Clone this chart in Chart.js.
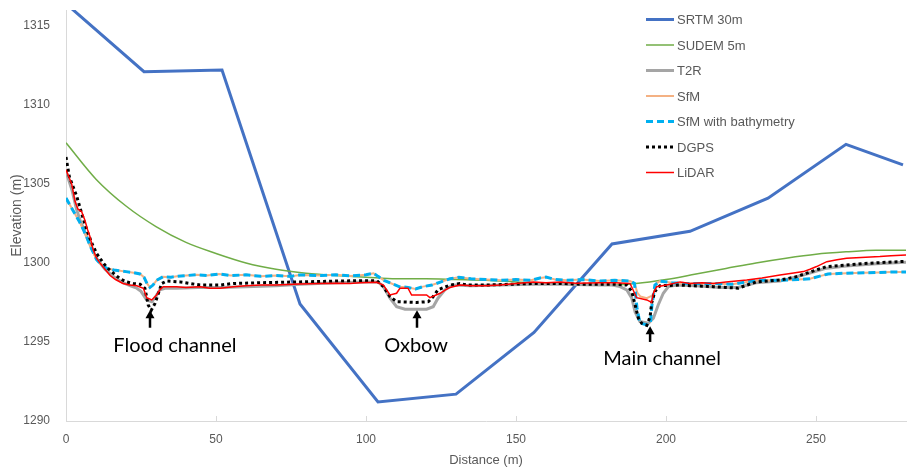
<!DOCTYPE html>
<html>
<head>
<meta charset="utf-8">
<script src="https://cdn.jsdelivr.net/npm/chart.js"></script>
<style>
  html, body { margin: 0; padding: 0; background: #fff; }
  #wrap { width: 908px; height: 468px; position: relative; }
</style>
</head>
<body>
<div id="wrap"><canvas id="profileChart"></canvas></div>
<script>
// Series values (distance in m, elevation in m)
const srtmX = [0, 26, 52, 78, 104, 130, 156, 182, 208, 234, 260, 279];
const srtmY = [1316.4, 1312.1, 1312.2, 1297.4, 1291.2, 1291.7, 1295.6, 1301.2, 1302.0, 1304.1, 1307.5, 1306.2];

const sudemX = [0, 10, 20, 30, 40, 50, 60, 70, 80, 90, 100, 110, 120, 130, 140, 150, 160, 170, 180, 190, 200, 210, 220, 230, 240, 250, 260, 270, 280];
const sudemY = [1307.6, 1305.3, 1303.6, 1302.3, 1301.3, 1300.6, 1300.0, 1299.6, 1299.35, 1299.2, 1299.1, 1299.0, 1299.0, 1298.95, 1298.9, 1298.8, 1298.7, 1298.65, 1298.6, 1298.7, 1298.95, 1299.3, 1299.65, 1300.0, 1300.3, 1300.55, 1300.7, 1300.8, 1300.8];

const t2rX = [0, 2, 3.5, 4.7, 6.9, 8.6, 10.5, 13, 16, 19, 21.5, 23.6, 25, 26.9, 28.6, 30, 31.3, 33, 36.9, 44, 51.3, 60, 70, 78, 90, 100, 104, 105.8, 108, 110.2, 113, 120.2, 122.4, 124, 126.3, 129, 135, 145, 155, 165, 178, 182, 184.7, 186.9, 188.6, 189.7, 191.3, 194.1, 195.8, 197.4, 199.1, 200.8, 203.6, 210, 218, 224, 230, 238, 246, 253, 260, 270, 280];
const t2rY = [1305.8, 1304.6, 1303.4, 1302.7, 1301.66, 1300.9, 1300.2, 1299.6, 1299.1, 1298.75, 1298.55, 1298.4, 1298.2, 1297.66, 1297.55, 1297.9, 1298.3, 1298.4, 1298.4, 1298.45, 1298.45, 1298.5, 1298.55, 1298.65, 1298.75, 1298.8, 1298.8, 1298.5, 1297.77, 1297.23, 1297.07, 1297.07, 1297.23, 1297.77, 1298.3, 1298.6, 1298.55, 1298.6, 1298.65, 1298.65, 1298.6, 1298.6, 1298.5, 1298.3, 1297.77, 1296.9, 1296.3, 1296.18, 1296.5, 1297.34, 1298.08, 1298.5, 1298.6, 1298.55, 1298.45, 1298.45, 1298.75, 1298.85, 1299.25, 1299.65, 1299.8, 1299.95, 1300.05];

const sfmX = [0, 1.5, 3, 4.5, 5.8, 7, 8, 9, 10.2, 12, 13.6, 16, 18, 20, 22, 24.7, 26, 27, 28, 29, 30.2, 32.4, 35, 37, 40, 43.6, 47, 51, 55, 60, 65, 70, 75, 78, 85, 90, 95, 100, 102.5, 104, 106, 108.5, 111, 114, 116.5, 119, 122, 125, 128, 131, 135, 140, 145, 150, 155, 158, 160, 163, 167, 172, 178, 183, 188, 189.5, 190.5, 191.5, 193.6, 195, 195.8, 196.8, 198, 202, 206, 210, 216, 222, 227, 231, 238, 244, 248, 251, 254, 260, 266, 271, 275, 280];
const sfmY = [1304.1, 1303.6, 1303.1, 1302.6, 1302.1, 1301.6, 1301.1, 1300.7, 1300.2, 1299.85, 1299.66, 1299.55, 1299.5, 1299.45, 1299.4, 1299.3, 1299.1, 1298.7, 1298.45, 1298.6, 1298.9, 1299.13, 1299.1, 1299.15, 1299.2, 1299.25, 1299.2, 1299.3, 1299.2, 1299.25, 1299.15, 1299.2, 1299.15, 1299.24, 1299.2, 1299.25, 1299.18, 1299.25, 1299.35, 1299.15, 1298.9, 1298.7, 1298.5, 1298.45, 1298.35, 1298.5, 1298.6, 1298.8, 1299.0, 1299.1, 1299.0, 1298.95, 1298.9, 1298.95, 1298.9, 1299.05, 1299.1, 1298.95, 1298.9, 1298.95, 1298.85, 1298.9, 1298.86, 1298.7, 1298.1, 1297.87, 1297.77, 1297.9, 1298.0, 1298.7, 1298.85, 1298.75, 1298.7, 1298.7, 1298.7, 1298.65, 1298.8, 1298.9, 1298.9, 1298.95, 1299.0, 1299.15, 1299.3, 1299.35, 1299.38, 1299.4, 1299.42, 1299.42];

const bathyX = [0, 1.5, 3, 4.5, 5.8, 7, 8, 9, 10.2, 12, 13.6, 16, 18, 20, 22, 24.7, 26, 27, 28, 29, 30.2, 32.4, 35, 37, 40, 43.6, 47, 51, 55, 60, 65, 70, 75, 78, 85, 90, 95, 100, 102.5, 104, 106, 108.5, 111, 114, 116.5, 119, 122, 125, 128, 131, 135, 140, 145, 150, 155, 158, 160, 163, 167, 172, 178, 183, 188, 189.5, 190.3, 191.3, 193.6, 194.8, 195.3, 196.3, 198, 202, 206, 210, 216, 222, 227, 231, 238, 244, 248, 251, 254, 260, 266, 271, 275, 280];
const bathyY = [1304.1, 1303.6, 1303.1, 1302.6, 1302.1, 1301.6, 1301.1, 1300.7, 1300.2, 1299.85, 1299.66, 1299.55, 1299.5, 1299.45, 1299.4, 1299.3, 1299.1, 1298.7, 1298.45, 1298.6, 1298.9, 1299.13, 1299.1, 1299.15, 1299.2, 1299.25, 1299.2, 1299.3, 1299.2, 1299.25, 1299.15, 1299.2, 1299.15, 1299.24, 1299.2, 1299.25, 1299.18, 1299.25, 1299.35, 1299.15, 1298.9, 1298.7, 1298.5, 1298.45, 1298.35, 1298.5, 1298.6, 1298.8, 1299.0, 1299.1, 1299.0, 1298.95, 1298.9, 1298.95, 1298.9, 1299.05, 1299.1, 1298.95, 1298.9, 1298.95, 1298.85, 1298.9, 1298.86, 1298.7, 1297.2, 1296.2, 1296.08, 1296.2, 1297.3, 1298.6, 1298.85, 1298.75, 1298.7, 1298.7, 1298.7, 1298.65, 1298.8, 1298.9, 1298.9, 1298.95, 1299.0, 1299.15, 1299.3, 1299.35, 1299.38, 1299.4, 1299.42, 1299.42];

const dgpsX = [0, 1.1, 2.4, 3.6, 5.2, 6.9, 8.6, 10.2, 12.4, 14, 15.8, 18, 20.2, 22.5, 24.7, 26.3, 27.4, 28.4, 29.7, 30.8, 31.9, 33.6, 38, 44.7, 51.3, 55.8, 65, 78, 90, 98, 103.6, 105.8, 108, 110.2, 116.9, 120.8, 122.4, 124, 128, 131.3, 133.6, 140, 148, 155.8, 165, 172, 178, 183, 186.9, 188.6, 189.7, 190.8, 191.9, 193.6, 194.7, 195.2, 196.3, 198, 204.7, 208, 215.8, 220, 224, 227, 230.2, 238, 243, 246.9, 250, 253.6, 260.2, 265, 271.3, 280];
const dgpsY = [1306.7, 1305.46, 1304.8, 1304.2, 1303.14, 1302.1, 1301.25, 1300.6, 1300.0, 1299.65, 1299.35, 1299.0, 1298.8, 1298.7, 1298.65, 1298.4, 1297.34, 1297.0, 1297.45, 1298.08, 1298.7, 1298.86, 1298.8, 1298.6, 1298.6, 1298.7, 1298.75, 1298.8, 1298.85, 1298.88, 1298.88, 1298.5, 1297.87, 1297.55, 1297.5, 1297.55, 1297.87, 1298.3, 1298.6, 1298.7, 1298.6, 1298.6, 1298.65, 1298.7, 1298.7, 1298.65, 1298.65, 1298.65, 1298.6, 1298.2, 1297.34, 1296.5, 1296.18, 1296.05, 1296.6, 1297.45, 1298.2, 1298.56, 1298.6, 1298.56, 1298.5, 1298.45, 1298.4, 1298.6, 1298.8, 1298.92, 1299.1, 1299.35, 1299.55, 1299.77, 1299.87, 1299.95, 1300.02, 1300.1];

const lidarX = [0, 1.9, 3, 4, 5.2, 6.3, 7.2, 8, 9.1, 10.2, 11.3, 13, 14.7, 16.5, 19, 21.3, 23.6, 25.8, 26.9, 28.6, 30.2, 31.3, 32.4, 36.9, 40, 44.7, 48, 51.3, 55.8, 60, 65, 70, 78, 85, 90, 94.7, 98, 103.6, 105.8, 108, 110.2, 111.3, 114, 115.2, 120.2, 121.3, 124.7, 126.5, 128, 131.3, 135, 140, 144.7, 150, 155.8, 160, 165, 170, 178, 183, 188, 189, 190.2, 193.6, 195.2, 195.8, 196.9, 200.2, 204.7, 208, 212, 215.8, 220, 226.9, 232, 238, 242, 245.8, 248, 250.2, 253.6, 257, 260.2, 265, 271.3, 275, 280];
const lidarY = [1305.9, 1305.0, 1303.9, 1303.4, 1303.25, 1302.7, 1302.1, 1301.66, 1300.8, 1300.3, 1300.0, 1299.6, 1299.2, 1298.95, 1298.7, 1298.6, 1298.55, 1298.4, 1297.8, 1297.66, 1297.97, 1298.3, 1298.5, 1298.5, 1298.45, 1298.5, 1298.4, 1298.4, 1298.5, 1298.55, 1298.6, 1298.6, 1298.67, 1298.7, 1298.72, 1298.7, 1298.75, 1298.78, 1298.6, 1297.97, 1298.08, 1298.4, 1298.4, 1297.97, 1297.97, 1297.8, 1298.08, 1298.3, 1298.45, 1298.6, 1298.55, 1298.55, 1298.6, 1298.7, 1298.8, 1298.75, 1298.8, 1298.72, 1298.75, 1298.75, 1298.7, 1298.3, 1297.8, 1297.66, 1297.5, 1298.08, 1298.5, 1298.6, 1298.8, 1298.7, 1298.75, 1298.7, 1298.8, 1298.92, 1299.05, 1299.24, 1299.35, 1299.45, 1299.6, 1299.77, 1300.08, 1300.2, 1300.3, 1300.35, 1300.4, 1300.45, 1300.5];

const xTicksStep = 50;
const yTicksStep = 5;

const axisFont = "'Liberation Sans', Arial, sans-serif";
const noteFont = "Lato, 'Open Sans', sans-serif";

function pts(xs, ys) {
    return xs.map((x, i) => ({ x: x, y: ys[i] }));
}

const datasets = [
    { label: 'SRTM 30m', data: pts(srtmX, srtmY), borderColor: '#4472C4', borderWidth: 3, order: 7 },
    { label: 'SUDEM 5m', data: pts(sudemX, sudemY), borderColor: '#70AD47', borderWidth: 1.5, order: 6, cubicInterpolationMode: 'monotone' },
    { label: 'T2R', data: pts(t2rX, t2rY), borderColor: '#A5A5A5', borderWidth: 3, order: 5 },
    { label: 'SfM', data: pts(sfmX, sfmY), borderColor: '#F4B183', borderWidth: 2, order: 4 },
    { label: 'SfM with bathymetry', data: pts(bathyX, bathyY), borderColor: '#00B0F0', borderWidth: 3, borderDash: [7, 4], order: 3 },
    { label: 'DGPS', data: pts(dgpsX, dgpsY), borderColor: '#000000', borderWidth: 3, borderDash: [3, 3], order: 2 },
    { label: 'LiDAR', data: pts(lidarX, lidarY), borderColor: '#FF0000', borderWidth: 1.5, order: 1 }
];
datasets.forEach(d => { d.pointRadius = 0; d.fill = false; d.tension = d.cubicInterpolationMode ? 0.4 : 0; });

// Legend, small inner ticks on x axis and the channel labels
const extras = {
    id: 'extras',
    afterDraw(chart) {
        const ctx = chart.ctx;
        const xs = chart.scales.x, ys = chart.scales.y;
        const area = chart.chartArea;

        ctx.save();
        ctx.strokeStyle = '#D9D9D9';
        ctx.lineWidth = 1;
        xs.ticks.forEach(t => {
            if (t.value === 0) return;
            const px = Math.round(xs.getPixelForValue(t.value)) + 0.5;
            ctx.beginPath();
            ctx.moveTo(px, area.bottom);
            ctx.lineTo(px, area.bottom - 5);
            ctx.stroke();
        });

        // legend
        ctx.font = '13px ' + axisFont;
        ctx.textBaseline = 'middle';
        ctx.fillStyle = '#595959';
        chart.data.datasets.forEach((d, i) => {
            const y = 19.5 + i * 25.5;
            ctx.strokeStyle = d.borderColor;
            ctx.lineWidth = d.borderWidth;
            ctx.setLineDash(d.borderDash || []);
            ctx.beginPath();
            ctx.moveTo(646, y);
            ctx.lineTo(674, y);
            ctx.stroke();
            ctx.setLineDash([]);
            ctx.fillText(d.label, 677, y + 1);
        });

        // channel notes
        const notes = [
            { text: 'Flood channel', tx: 36.3, ty: 1294.75, ax: 28, a0: 1295.9, a1: 1297.0 },
            { text: 'Oxbow', tx: 116.7, ty: 1294.75, ax: 117, a0: 1295.9, a1: 1297.0 },
            { text: 'Main channel', tx: 198.7, ty: 1293.95, ax: 194.7, a0: 1295.0, a1: 1296.0 }
        ];
        ctx.fillStyle = '#000';
        ctx.strokeStyle = '#000';
        ctx.font = '20px ' + noteFont;
        ctx.textAlign = 'center';
        notes.forEach(n => {
            ctx.fillText(n.text, xs.getPixelForValue(n.tx), ys.getPixelForValue(n.ty));
            const ax = xs.getPixelForValue(n.ax);
            const yb = ys.getPixelForValue(n.a0), yt = ys.getPixelForValue(n.a1);
            ctx.lineWidth = 2.5;
            ctx.beginPath();
            ctx.moveTo(ax, yb);
            ctx.lineTo(ax, yt + 5);
            ctx.stroke();
            ctx.beginPath();
            ctx.moveTo(ax, yt);
            ctx.lineTo(ax - 4.5, yt + 8);
            ctx.lineTo(ax + 4.5, yt + 8);
            ctx.closePath();
            ctx.fill();
        });
        ctx.restore();
    }
};

new Chart(document.getElementById('profileChart'), {
    type: 'line',
    data: { datasets: datasets },
    options: {
        responsive: true,
        maintainAspectRatio: false,
        animation: false,
        layout: { padding: { top: 10, right: 2, left: 0, bottom: 0 } },
        plugins: { legend: { display: false }, tooltip: { enabled: false } },
        scales: {
            x: {
                type: 'linear',
                min: 0,
                max: 280,
                grid: { display: false },
                border: { display: true, color: '#D9D9D9', width: 1 },
                afterBuildTicks(scale) { scale.ticks = scale.ticks.filter(t => t.value % xTicksStep === 0); },
                ticks: { stepSize: xTicksStep, color: '#595959', font: { family: axisFont, size: 12 }, padding: 3, maxRotation: 0, callback: v => String(v) },
                title: { display: true, text: 'Distance (m)', color: '#595959', font: { family: axisFont, size: 13 }, padding: { top: 0, bottom: 0 } },
                afterFit(scale) { scale.height = 47; scale.paddingLeft = 0; scale.paddingRight = 0; }
            },
            y: {
                min: 1290,
                max: 1316,
                grid: { display: false },
                border: { display: true, color: '#D9D9D9', width: 1 },
                ticks: { stepSize: yTicksStep, color: '#595959', font: { family: axisFont, size: 12 }, padding: 8, callback: v => String(v) },
                afterBuildTicks(scale) { scale.ticks = scale.ticks.filter(t => t.value % yTicksStep === 0); },
                title: { display: true, text: 'Elevation (m)', color: '#595959', font: { family: axisFont, size: 14 }, padding: { top: 9, bottom: 4 } },
                afterFit(scale) { scale.width = 66; scale.paddingTop = 0; scale.paddingBottom = 0; }
            }
        }
    },
    plugins: [extras]
});
</script>
</body>
</html>
